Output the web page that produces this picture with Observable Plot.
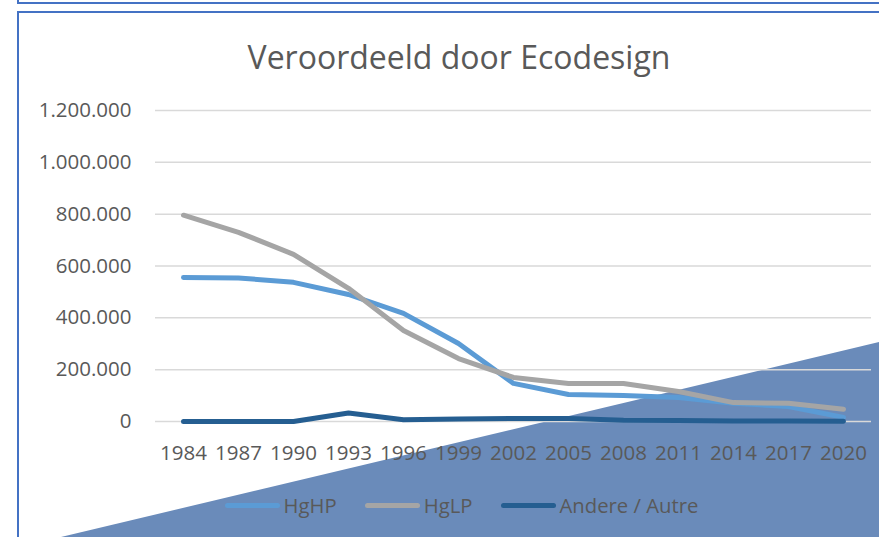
<!DOCTYPE html>
<html>
<head>
<meta charset="utf-8">
<script src="https://cdn.jsdelivr.net/npm/d3@7"></script>
<script src="https://cdn.jsdelivr.net/npm/@observablehq/plot@0.6"></script>
<style>
  html, body { margin: 0; padding: 0; background: #fff; }
  #wrap { position: relative; width: 879px; height: 537px; overflow: hidden; background: #fff; font-family: "Open Sans", sans-serif; }
  #box0 { position: absolute; left: 17px; top: -10px; width: 900px; height: 10px; border: 2px solid #4472c4; }
  #box1 { position: absolute; left: 17px; top: 11px; width: 900px; height: 600px; border-top: 2px solid #4472c4; border-left: 2px solid #4472c4; }
  #tri { position: absolute; left: 0; top: 0; width: 879px; height: 537px; background: #6a8bba;
         clip-path: polygon(61px 537px, 879px 342px, 879px 537px); }
  #chart { position: absolute; left: 0; top: 0; }
  #title { position: absolute; left: 17px; width: 884px; top: 35px; text-align: center; font-size: 32px; font-weight: 400; color: #595959; }
  #legend { position: absolute; top: 491px; left: 22px; width: 879px; display: flex; justify-content: center; font-size: 20.3px; color: #595959; }
  .item { display: flex; align-items: center; margin: 0 14px; }
  .sw { width: 55px; height: 5px; border-radius: 3px; margin-right: 4px; }
</style>
</head>
<body>
<div id="wrap">
  <div id="box0"></div>
  <div id="box1"></div>
  <div id="tri"></div>
  <div id="chart"></div>
  <div id="title"></div>
  <div id="legend"></div>
</div>
<script>
const titleText = "Veroordeeld door Ecodesign";
const years = [1984, 1987, 1990, 1993, 1996, 1999, 2002, 2005, 2008, 2011, 2014, 2017, 2020];
const seriesNames = ["HgHP", "HgLP", "Andere / Autre"];
const colors = ["#5b9bd5", "#a5a5a5", "#255e91"];
const hgHP   = [556000, 554000, 537000, 490000, 417000, 301000, 147000, 104000, 100000, 93000, 70000, 58000, 16000];
const hgLP   = [796000, 730000, 645000, 514000, 351000, 243000, 170000, 147000, 147000, 116000, 73000, 70000, 47000];
const andere = [0, 0, 0, 33000, 7000, 10000, 12000, 12000, 5000, 4000, 2000, 2000, 1000];
const yTicks = [0, 200000, 400000, 600000, 800000, 1000000, 1200000];

const seriesValues = [hgHP, hgLP, andere];
const data = [];
seriesNames.forEach((s, k) => years.forEach((yr, i) => data.push({year: yr, series: s, value: seriesValues[k][i]})));

const fmt = d3.formatLocale({decimal: ",", thousands: ".", grouping: [3], currency: ["", ""]}).format(",d");

const chart = Plot.plot({
  width: 879, height: 537,
  marginLeft: 155, marginRight: 8, marginTop: 110, marginBottom: 116,
  style: {background: "transparent", fontFamily: "Open Sans, sans-serif", fontSize: "20.5px", color: "#595959", overflow: "visible"},
  x: {type: "point", domain: years, padding: 0.5, label: null, tickSize: 0, tickPadding: 24, tickFormat: d => String(d)},
  y: {domain: [0, 1200000], ticks: yTicks, tickFormat: fmt, label: null, tickSize: 0, tickPadding: 24},
  color: {domain: seriesNames, range: colors},
  marks: [
    Plot.ruleY(yTicks, {stroke: "#d9d9d9", strokeWidth: 1.5}),
    Plot.line(data, {x: "year", y: "value", stroke: "series", z: "series", strokeWidth: 5, strokeLinecap: "round", strokeLinejoin: "round"})
  ]
});
document.getElementById("chart").appendChild(chart);
document.getElementById("title").textContent = titleText;

const legend = d3.select("#legend");
seriesNames.forEach((s, i) => {
  const it = legend.append("div").attr("class", "item");
  it.append("div").attr("class", "sw").style("background", colors[i]);
  it.append("span").text(s);
});
</script>
</body>
</html>
